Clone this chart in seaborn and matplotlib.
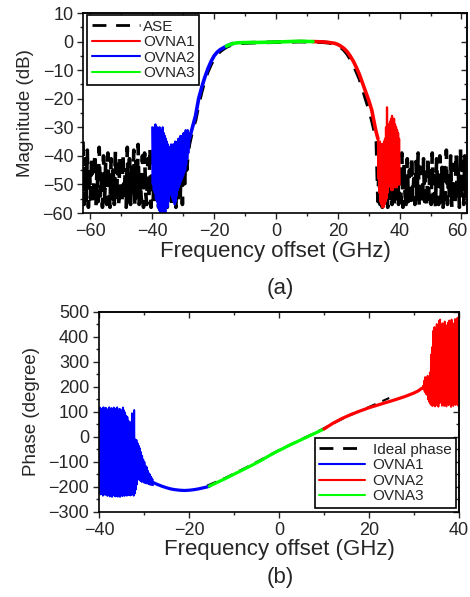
import numpy as np
import matplotlib
matplotlib.use("Agg")
import matplotlib.pyplot as plt
import matplotlib.transforms as mtrans
from matplotlib.lines import Line2D
from matplotlib.ticker import MultipleLocator
import seaborn as sns

# ---------------- (a) magnitude ----------------
# ASE: noise floor left, passband, noise floor right
ase_left_lim = (-62.4, -28.5)
ase_left = [-35, -57, -41, -56, -38, -58, -44, -55, -40, -57,
            -50, -39, -58, -43, -56, -37, -54, -47, -58, -40,
            -56, -42, -57, -39, -52, -58, -41, -55, -45, -57,
            -38, -56, -43, -58, -40, -53, -57, -39, -55, -46,
            -58, -37, -56, -41, -57, -44, -54, -38, -58, -42,
            -55, -36, -57, -48, -56, -40, -58, -39, -53, -57,
            -41, -55, -37, -58, -45, -56, -40, -57, -38, -54,
            -58, -42, -56, -36, -57, -47, -55, -39, -58, -41,
            -56, -38, -57, -44, -55, -37, -58, -40, -56, -36,
            -54, -42, -57, -39, -52, -38, -45, -40]
ase_mid_x = [-28, -27, -26, -25, -24, -23, -22, -21, -20, -19, -18, -17, -16, -15, -14,
             -12, -8, -4, 0, 4, 8, 12, 15, 17, 19, 20, 21, 22, 23, 24, 25, 26, 27, 28,
             29, 30, 31, 32, 32.5]
ase_mid = [-36, -31, -27.5, -22, -17.5, -13.5, -10.5, -8, -6, -4.5, -3.4, -2.6, -1.9, -1.4, -1,
           -0.6, -0.4, -0.3, -0.2, -0.1, 0, -0.1, -0.2, -0.4, -0.8, -1.2, -2, -3, -4.3, -6,
           -8, -10.5, -13, -16.5, -20, -23.5, -27.5, -32, -35]
ase_right_lim = (33, 61.8)
ase_right = [-56, -44, -57, -48, -58, -42, -55, -57, -46, -58,
             -43, -56, -50, -57, -41, -58, -45, -55, -40, -57,
             -47, -56, -39, -58, -43, -54, -57, -41, -56, -45,
             -58, -40, -55, -48, -57, -42, -56, -39, -58, -44,
             -53, -57, -41, -56, -46, -58, -40, -55, -43, -57,
             -39, -56, -47, -58, -41, -54, -57, -40, -56, -44,
             -58, -42, -55, -38, -57, -46, -56, -40, -58, -43,
             -54, -57, -39, -56, -45, -58, -37, -55, -42, -57,
             -40, -56, -44]

# OVNA2 (blue): noisy part then rising edge
mag_blue_noise_lim = (-40, -28)
mag_blue_noise = [-30, -50, -31, -52, -30, -53, -29, -55, -31, -56,
                  -30, -58, -31, -59, -30, -60, -32, -59, -31, -60,
                  -30, -60, -32, -58, -33, -60, -34, -57, -35, -58,
                  -36, -56, -37, -53, -37, -52, -36, -54, -37, -55,
                  -36, -56, -36, -57, -35, -56, -36, -54, -35, -52,
                  -34, -51, -34, -50, -33, -49, -34, -48, -33, -47,
                  -32, -46, -32, -45, -31, -43, -32, -41, -31, -39,
                  -32, -36]
mag_blue_x = [-28, -27, -26, -25, -24, -23, -22, -21, -20, -19, -18, -17, -16, -15, -14]
mag_blue = [-34, -30, -26, -20, -16, -12.5, -9.5, -7, -5, -3.7, -2.8, -2.2, -1.6, -1.1, -0.7]

# OVNA3 (green): flat top
mag_green_x = [-16, -15, -14, -13, -12, -10, -8, -6, -4, -2, 0, 2, 4, 6, 8, 10, 12]
mag_green = [-1.6, -1.1, -0.7, -0.5, -0.4, -0.35, -0.3, -0.3, -0.25, -0.2, -0.15, -0.1,
             0, 0.05, 0.1, 0.05, 0]

# OVNA1 (red): falling edge then noisy part
mag_red_x = [12, 15, 17, 19, 20, 21, 22, 23, 24, 25, 26, 27, 28, 29, 30, 31, 32, 32.5, 33]
mag_red = [0, -0.1, -0.3, -0.6, -1, -1.6, -2.4, -3.5, -5, -6.8, -9, -11.5, -14.5, -17.5,
           -20.5, -24, -29.5, -32, -34]
mag_red_noise_lim = (33, 40)
mag_red_noise = [-34, -48, -35, -53, -35, -56, -36, -57, -36, -58,
                 -36, -58, -35, -57, -34, -56, -30, -55, -23, -53,
                 -29, -50, -30, -49, -28, -51, -27, -52, -26, -52,
                 -28, -51, -27, -50, -29, -51, -30, -51, -31, -50,
                 -32, -50, -34, -50]

# ---------------- (b) phase ----------------
ph_blue_noise_lim = (-40, -28)
ph_blue_noise = [110, -225, 118, -230, 105, -228, 115, -235, 119, -226,
                 108, -232, 117, -229, 112, -236, 104, -231, 119, -238,
                 110, -227, 116, -240, 101, -233, 118, -236, 107, -238,
                 114, -234, 119, -239, 95, -236, 113, -240, 110, -232,
                 104, -237, 118, -233, 107, -236, 98, -230, 85, -235,
                 80, -233, 65, -230, 50, -234, 60, -232, 95, -228,
                 70, -235, 108, -226, -10, -210, -12, -190, -25, -168,
                 -35, -172, -45, -176, -60, -180, -75, -178, -90, -182,
                 -100, -184, -115, -186, -120, -185, -135, -188, -145, -190,
                 -150, -191, -160, -192, -168, -193]
ph_blue_x = [-28, -27, -26, -25, -24, -23, -22, -21, -20, -19, -18, -17, -16, -15.5]
ph_blue = [-182, -190, -197, -203, -208, -211, -213, -214, -213, -211, -208, -204, -200, -197]

ph_green_x = [-15.5, -14, -12, -10, -8, -6, -4, -2, 0, 2, 4, 6, 8, 10]
ph_green = [-197, -184, -167, -149, -131, -113, -94, -73, -54, -36, -19, -2, 15, 32]

ph_red_x = [10, 12, 14, 16, 18, 20, 22, 24, 26, 28, 30, 31, 31.5, 32]
ph_red = [32, 55, 74, 90, 104, 117, 128, 139, 150, 162, 176, 185, 192, 197]
ph_red_noise_lim = (32, 40)
ph_red_noise = [205, 190, 225, 180, 240, 172, 232, 168, 245, 150,
                236, 140, 258, 132, 330, 126, 360, 124, 425, 128,
                440, 122, 432, 150, 452, 126, 445, 121, 465, 135,
                470, 148, 440, 125, 455, 160, 428, 124, 462, 138,
                448, 122, 415, 155, 458, 127, 466, 142, 430, 120,
                470, 150, 455, 124, 438, 158, 472, 128, 460, 145,
                476, 126, 480, 132]

ideal_x = [-16, -12, -9, -6, -3, 0, 3, 6, 9, 12, 15, 18, 20, 22, 24.5]
ideal = [-195, -164, -137, -110, -81, -52, -26, 0, 26, 54, 80, 105, 120, 136, 156]

BLUE, RED, GREEN = "#0000FF", "#FF0000", "#00FF00"
DASH = (0, (4, 3))
DASH_LEG = (0, (5, 3.5))

sns.set_style("ticks")
plt.rcParams["font.family"] = ["Liberation Sans", "DejaVu Sans"]
plt.rcParams["axes.linewidth"] = 1.2


def span(lim, vals):
    return np.linspace(lim[0], lim[1], len(vals))


def seg(ax, x, y, color, lw, ls="-"):
    sns.lineplot(x=np.asarray(x, float), y=np.asarray(y, float), ax=ax, color=color,
                 lw=lw, linestyle=ls, sort=False, estimator=None, legend=False)


def style_axes(ax, xmaj, ymaj):
    ax.xaxis.set_major_locator(MultipleLocator(xmaj))
    ax.xaxis.set_minor_locator(MultipleLocator(xmaj / 2))
    ax.yaxis.set_major_locator(MultipleLocator(ymaj))
    ax.yaxis.set_minor_locator(MultipleLocator(ymaj / 2))
    ax.tick_params(which="major", direction="out", length=4, width=1, labelsize=13, pad=3)
    ax.tick_params(which="minor", direction="out", length=2.5, width=1)
    for sp in ax.spines.values():
        sp.set_visible(True)
        sp.set_color("black")
    top = ax.secondary_xaxis("top")
    top.xaxis.set_major_locator(MultipleLocator(xmaj))
    top.xaxis.set_minor_locator(MultipleLocator(xmaj / 2))
    top.tick_params(which="both", direction="in", labeltop=False, width=1)
    top.tick_params(which="major", length=4)
    top.tick_params(which="minor", length=2.5)
    right = ax.secondary_yaxis("right")
    right.yaxis.set_major_locator(MultipleLocator(ymaj))
    right.yaxis.set_minor_locator(MultipleLocator(ymaj / 2))
    right.tick_params(which="both", direction="in", labelright=False, width=1)
    right.tick_params(which="major", length=4)
    right.tick_params(which="minor", length=2.5)


fig = plt.figure(figsize=(4.7, 5.97), dpi=100)

# ---- panel (a)
ax1 = fig.add_axes([0.1766, 0.6432, 0.8170, 0.3350])
ase_x = np.concatenate([span(ase_left_lim, ase_left), ase_mid_x, span(ase_right_lim, ase_right)])
ase_y = np.concatenate([ase_left, ase_mid, ase_right])
seg(ax1, ase_x, ase_y, "black", 2.6, DASH)
seg(ax1, span(mag_blue_noise_lim, mag_blue_noise), mag_blue_noise, BLUE, 1.6)
seg(ax1, mag_blue_x, mag_blue, BLUE, 2.6)
seg(ax1, mag_red_x, mag_red, RED, 2.6)
seg(ax1, span(mag_red_noise_lim, mag_red_noise), mag_red_noise, RED, 1.6)
seg(ax1, mag_green_x, mag_green, GREEN, 2.6)
ax1.set_xlim(-62.4, 61.8)
ax1.set_ylim(-60, 10)
style_axes(ax1, 20, 10)
ax1.set_xlabel("Frequency offset (GHz)", fontsize=16, labelpad=1)
ax1.set_ylabel("Magnitude (dB)", fontsize=13.5, labelpad=6)

# keep the right-most "60" inside the image
fig.canvas.draw()
last = [t for t in ax1.get_xticklabels() if t.get_text() in ("60",)]
for t in last:
    t.set_transform(t.get_transform() + mtrans.ScaledTranslation(-4 / 100, 0, fig.dpi_scale_trans))

h1 = [Line2D([], [], color="black", lw=2.0, linestyle=DASH_LEG),
      Line2D([], [], color=RED, lw=1.5),
      Line2D([], [], color=BLUE, lw=1.5),
      Line2D([], [], color=GREEN, lw=1.5)]
leg1 = ax1.legend(h1, ["ASE", "OVNA1", "OVNA2", "OVNA3"], loc="upper left",
                  bbox_to_anchor=(0.0104, 0.99), borderaxespad=0, fontsize=11,
                  handlelength=3.2, handletextpad=0.15, labelspacing=0.1,
                  borderpad=0.3, fancybox=False, framealpha=1, edgecolor="black")
leg1.get_frame().set_linewidth(1.2)

# ---- panel (b)
ax2 = fig.add_axes([0.2106, 0.1424, 0.7660, 0.3350])
seg(ax2, ideal_x, ideal, "black", 1.5, DASH_LEG)
seg(ax2, span(ph_blue_noise_lim, ph_blue_noise), ph_blue_noise, BLUE, 1.3)
seg(ax2, ph_blue_x, ph_blue, BLUE, 2.3)
seg(ax2, ph_green_x, ph_green, GREEN, 2.3)
seg(ax2, ph_red_x, ph_red, RED, 2.3)
seg(ax2, span(ph_red_noise_lim, ph_red_noise), ph_red_noise, RED, 1.3)
ax2.set_xlim(-40, 40)
ax2.set_ylim(-300, 500)
style_axes(ax2, 20, 100)
ax2.set_xlabel("Frequency offset (GHz)", fontsize=16, labelpad=0)
ax2.set_ylabel("Phase (degree)", fontsize=13.5, labelpad=6)

h2 = [Line2D([], [], color="black", lw=2.0, linestyle=DASH_LEG),
      Line2D([], [], color=BLUE, lw=1.5),
      Line2D([], [], color=RED, lw=1.5),
      Line2D([], [], color=GREEN, lw=1.5)]
leg2 = ax2.legend(h2, ["Ideal phase", "OVNA1", "OVNA2", "OVNA3"], loc="lower right",
                  bbox_to_anchor=(0.9917, 0.02), borderaxespad=0, fontsize=11,
                  handlelength=3.0, handletextpad=0.5, labelspacing=0.1,
                  borderpad=0.3, fancybox=False, framealpha=1, edgecolor="black")
leg2.get_frame().set_linewidth(1.2)

fig.text(0.596, 0.516, "(a)", fontsize=16, ha="center", va="center")
fig.text(0.596, 0.0335, "(b)", fontsize=16, ha="center", va="center")

fig.savefig("out.png", dpi=100)
